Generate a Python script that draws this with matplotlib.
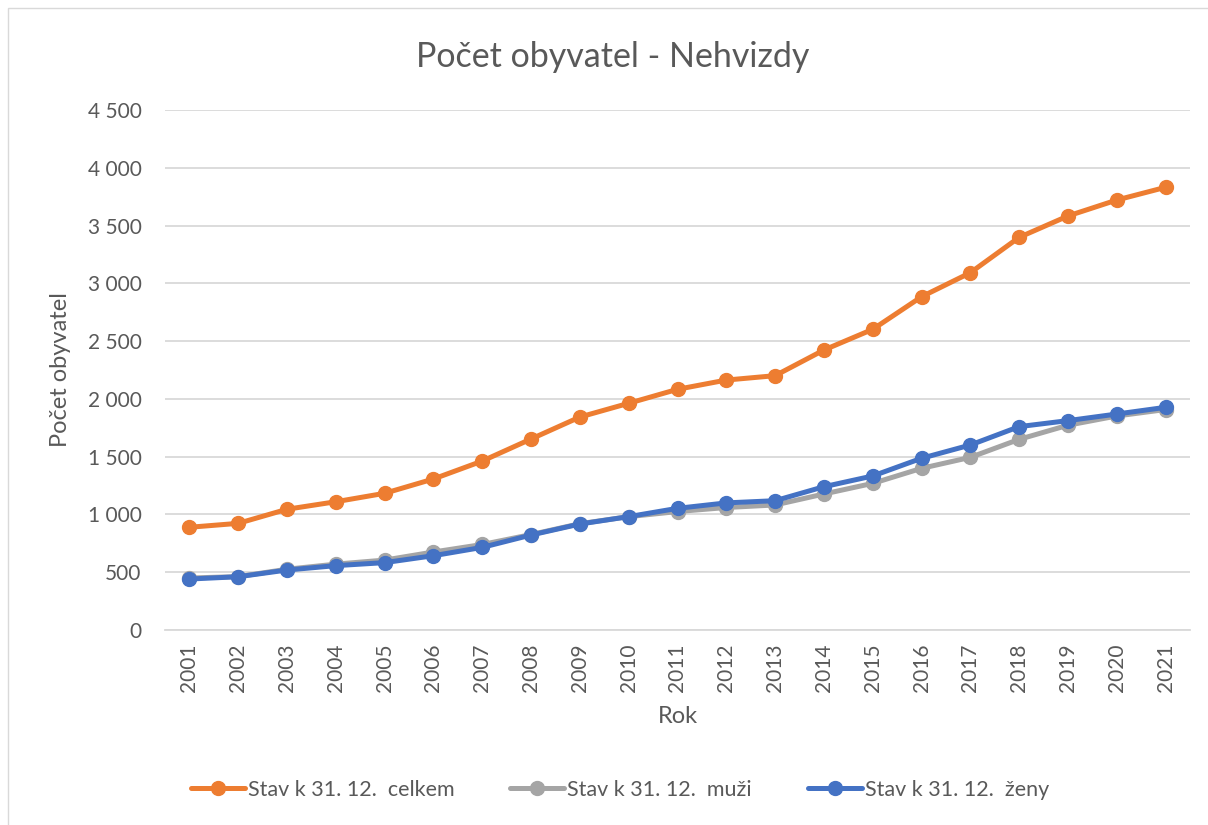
import matplotlib.pyplot as plt
from matplotlib.patches import Rectangle

plt.rcParams['font.family'] = ['Lato', 'DejaVu Sans']

years = [str(y) for y in range(2001, 2022)]
celkem = [889, 923, 1045, 1110, 1183, 1307, 1462, 1653, 1843, 1962,
          2083, 2163, 2201, 2423, 2602, 2884, 3092, 3398, 3583, 3721, 3831]
muzi = [450, 462, 526, 570, 605, 675, 740, 826, 920, 981,
        1025, 1060, 1082, 1177, 1269, 1399, 1494, 1650, 1772, 1852, 1908]
zeny = [441, 461, 519, 557, 583, 643, 715, 822, 917, 981,
        1053, 1100, 1119, 1240, 1333, 1486, 1601, 1760, 1812, 1869, 1927]
yticks = [0, 500, 1000, 1500, 2000, 2500, 3000, 3500, 4000, 4500]

txt = '#595959'
fig = plt.figure(figsize=(12.08, 8.25), dpi=100)
fig.patches.append(Rectangle((8/1208, -0.1), 1.2, 1 - 8/825 + 0.1,
                             transform=fig.transFigure, fill=False,
                             edgecolor='#D9D9D9', linewidth=1))
ax = fig.add_axes([165/1208, 195/825, 1025/1208, 520/825])

x = list(range(len(years)))
series = [(celkem, '#ED7D31', 'Stav k 31. 12.  celkem'),
          (muzi, '#A5A5A5', 'Stav k 31. 12.  muži'),
          (zeny, '#4472C4', 'Stav k 31. 12.  ženy')]
for vals, col, lab in series:
    ax.plot(x, vals, color=col, lw=3.6, marker='o', ms=10, label=lab,
            solid_capstyle='round')

ax.set_xlim(-0.5, len(years) - 0.5)
ax.set_ylim(0, 4500)
ax.set_yticks(yticks)
ax.set_yticklabels([f'{v:,}'.replace(',', ' ') for v in yticks])
ax.set_xticks(x)
ax.set_xticklabels(years, rotation=90)
ax.tick_params(axis='both', colors=txt, labelsize=15, length=0)
ax.tick_params(axis='y', pad=17)
ax.tick_params(axis='x', pad=10)
ax.grid(axis='y', color='#D9D9D9', lw=1.3)
ax.set_axisbelow(True)
for s in ['top', 'right', 'left']:
    ax.spines[s].set_visible(False)
ax.spines['bottom'].set_color('#D9D9D9')
ax.spines['bottom'].set_linewidth(1.3)

ax.set_ylabel('Počet obyvatel', color=txt, fontsize=17, labelpad=12)
ax.set_xlabel('Rok', color=txt, fontsize=17, labelpad=10)
fig.text(613/1208, 1 - 57/825, 'Počet obyvatel - Nehvizdy', color=txt,
         fontsize=24.5, ha='center', va='center')

leg = fig.legend(loc='center', bbox_to_anchor=(620/1208, 1 - 790/825),
                 ncol=3, frameon=False, fontsize=15.5, handlelength=2.5,
                 columnspacing=2.6, handletextpad=0.15)
for t in leg.get_texts():
    t.set_color(txt)

fig.savefig('out.png', dpi=100)
